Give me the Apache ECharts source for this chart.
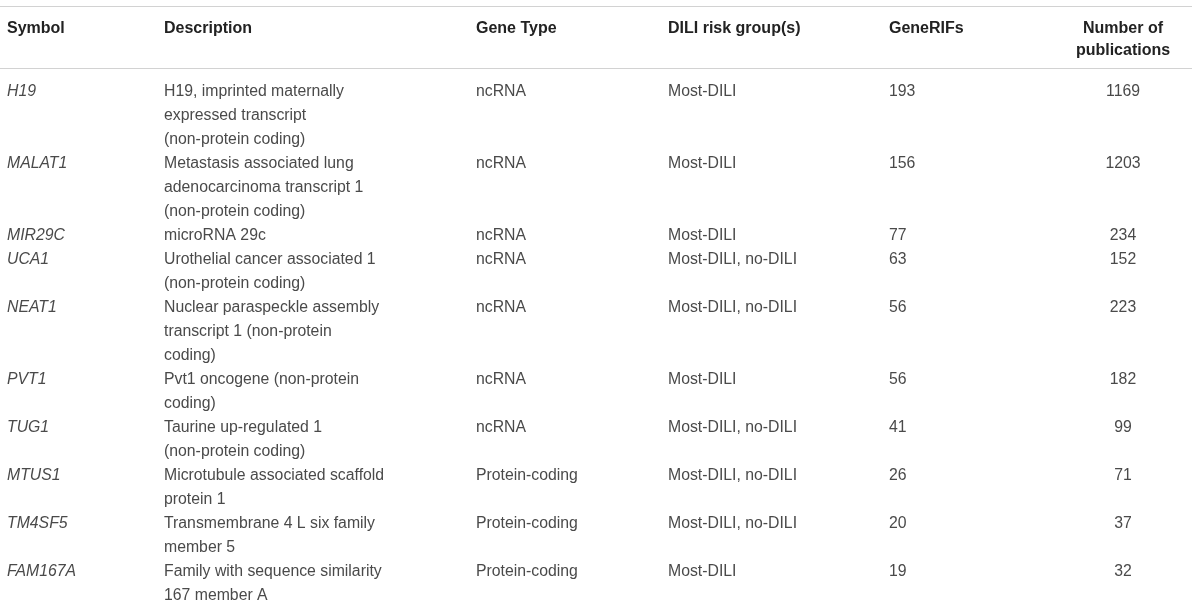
<!DOCTYPE html>
<html>
<head>
<meta charset="utf-8">
<style>
    html, body { margin: 0; padding: 0; background: #fff; }
    #main { width: 1200px; height: 608px; }
</style>
<script src="https://cdn.jsdelivr.net/npm/echarts@6/dist/echarts.min.js"></script>
</head>
<body>
<div id="main"></div>
<script>
    // table content
    var headers = ['Symbol', 'Description', 'Gene Type', 'DILI risk group(s)', 'GeneRIFs', 'Number of\npublications'];
    var symbols = ['H19', 'MALAT1', 'MIR29C', 'UCA1', 'NEAT1', 'PVT1', 'TUG1', 'MTUS1', 'TM4SF5', 'FAM167A'];
    var descriptions = [
        'H19, imprinted maternally\nexpressed transcript\n(non-protein coding)',
        'Metastasis associated lung\nadenocarcinoma transcript 1\n(non-protein coding)',
        'microRNA 29c',
        'Urothelial cancer associated 1\n(non-protein coding)',
        'Nuclear paraspeckle assembly\ntranscript 1 (non-protein\ncoding)',
        'Pvt1 oncogene (non-protein\ncoding)',
        'Taurine up-regulated 1\n(non-protein coding)',
        'Microtubule associated scaffold\nprotein 1',
        'Transmembrane 4 L six family\nmember 5',
        'Family with sequence similarity\n167 member A'
    ];
    var geneTypes = ['ncRNA', 'ncRNA', 'ncRNA', 'ncRNA', 'ncRNA', 'ncRNA', 'ncRNA', 'Protein-coding', 'Protein-coding', 'Protein-coding'];
    var diliGroups = ['Most-DILI', 'Most-DILI', 'Most-DILI', 'Most-DILI, no-DILI', 'Most-DILI, no-DILI',
        'Most-DILI', 'Most-DILI, no-DILI', 'Most-DILI, no-DILI', 'Most-DILI, no-DILI', 'Most-DILI'];
    var geneRIFs = [193, 156, 77, 63, 56, 56, 41, 26, 20, 19];
    var publications = [1169, 1203, 234, 152, 223, 182, 99, 71, 37, 32];

    var columns = [symbols, descriptions, geneTypes, diliGroups, geneRIFs, publications];

    // layout (pixels / line units)
    var colX = [7, 164, 476, 668, 889, 1123];
    var headX = [7, 164, 476, 668, 889, 1123];
    var colAlign = ['left', 'left', 'left', 'left', 'left', 'center'];
    var LINE = 24;          // height of one text line
    var BODY_TOP = 79.5;    // pixel where the first body line starts
    var HEAD_TOP = -2.6;    // header first line, in line units
    var RULES = [-3.06, -0.46];
    var RULE_END = 1192;
    var FONT = '"Liberation Sans", Arial, Helvetica, sans-serif';

    // where each row begins, counted in text lines
    var rowStart = [];
    var acc = 0;
    symbols.forEach(function (s, i) {
        rowStart.push(acc);
        var n = 1;
        columns.forEach(function (col) {
            n = Math.max(n, String(col[i]).split('\n').length);
        });
        acc += n;
    });

    var cellData = [];
    symbols.forEach(function (s, i) {
        columns.forEach(function (col, c) {
            cellData.push([colX[c], rowStart[i], c, i]);
        });
    });
    var headData = headers.map(function (h, c) {
        return [headX[c], HEAD_TOP, c];
    });
    var ruleData = RULES.map(function (y) {
        return [0, y];
    });

    var myChart = echarts.init(document.getElementById('main'));

    var option = {
        animation: false,
        backgroundColor: '#fff',
        grid: {left: 0, right: 0, top: 0, bottom: 0},
        xAxis: {type: 'value', min: 0, max: 1200, show: false},
        yAxis: {
            type: 'value',
            inverse: true,
            min: -BODY_TOP / LINE,
            max: (608 - BODY_TOP) / LINE,
            show: false
        },
        series: [
            {
                // horizontal rules
                type: 'custom',
                data: ruleData,
                renderItem: function (params, api) {
                    var a = api.coord([api.value(0), api.value(1)]);
                    var b = api.coord([RULE_END, api.value(1)]);
                    var y = Math.round(a[1]) + 0.5;
                    return {
                        type: 'line',
                        shape: {x1: a[0], y1: y, x2: b[0], y2: y},
                        style: {stroke: '#d2d2d2', lineWidth: 1.2}
                    };
                }
            },
            {
                // header cells
                type: 'custom',
                data: headData,
                renderItem: function (params, api) {
                    var c = api.value(2);
                    var p = api.coord([api.value(0), api.value(1)]);
                    return {
                        type: 'text',
                        x: p[0],
                        y: p[1],
                        style: {
                            text: headers[c],
                            fill: '#222',
                            fontFamily: FONT,
                            fontSize: 16,
                            fontWeight: 'bold',
                            lineHeight: 22,
                            align: colAlign[c],
                            verticalAlign: 'top'
                        }
                    };
                }
            },
            {
                // body cells
                type: 'custom',
                data: cellData,
                renderItem: function (params, api) {
                    var c = api.value(2), i = api.value(3);
                    var p = api.coord([api.value(0), api.value(1)]);
                    return {
                        type: 'text',
                        x: p[0],
                        y: p[1],
                        style: {
                            text: String(columns[c][i]),
                            fill: '#4a4a4a',
                            fontFamily: FONT,
                            fontSize: 15.8,
                            fontStyle: c === 0 ? 'italic' : 'normal',
                            lineHeight: LINE,
                            align: colAlign[c],
                            verticalAlign: 'top'
                        }
                    };
                }
            }
        ]
    };
    myChart.setOption(option);
</script>
</body>
</html>
